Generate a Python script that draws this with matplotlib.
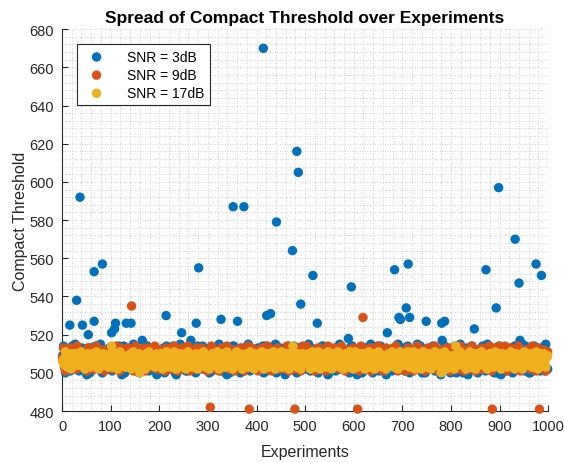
import numpy as np
import matplotlib
matplotlib.use("Agg")
import matplotlib.pyplot as plt
from matplotlib.ticker import MultipleLocator

plt.rcParams['font.family'] = ['Liberation Sans', 'DejaVu Sans']

# band values, read at experiments 1, 5, 9, ... (set a) and 3, 7, 11, ... (set b)
band_exp_a = np.arange(1, 1001, 4)
band_exp_b = np.arange(3, 1001, 4)

snr3_band_a = [
    509, 503, 512, 506, 501, 514, 507, 510, 504, 502, 513, 508, 505, 511, 500, 509, 503, 514, 506, 512, 501, 507, 510, 504, 513,
    505, 511, 502, 508, 514, 503, 509, 500, 512, 506, 504, 510, 513, 501, 507, 511, 505, 502, 514, 508, 503, 512, 509, 506, 501,
    510, 504, 513, 507, 502, 511, 505, 514, 500, 508, 512, 503, 506, 510, 501, 509, 513, 504, 507, 502, 511, 505, 514, 508, 503,
    512, 506, 501, 509, 504, 513, 507, 510, 502, 505, 511, 500, 508, 514, 503, 506, 512, 509, 501, 504, 510, 507, 513, 502, 505,
    511, 508, 503, 514, 506, 501, 509, 512, 504, 507, 500, 510, 513, 502, 505, 511, 508, 503, 506, 514, 501, 509, 504, 512, 507,
    502, 510, 505, 513, 508, 501, 511, 504, 507, 514, 503, 509, 500, 506, 512, 505, 510, 502, 513, 507, 504, 511, 501, 508, 514,
    506, 503, 512, 509, 500, 505, 513, 510, 502, 507, 511, 504, 514, 501, 508, 506, 512, 503, 509, 505, 510, 502, 513, 507, 504,
    513, 501, 507, 510, 504, 512, 506, 503, 509, 514, 500, 505, 511, 508, 502, 510, 504, 513, 507, 501, 509, 512, 506, 503, 511,
    504, 509, 514, 502, 507, 511, 500, 506, 513, 503, 510, 505, 508, 512, 501, 507, 514, 504, 509, 502, 511, 506, 500, 513, 508,
    507, 512, 504, 501, 510, 506, 513, 508, 503, 511, 505, 502, 509, 514, 506, 500, 512, 504, 510, 507, 503, 513, 505, 501, 509,
]
snr3_band_b = [
    514, 500, 507, 511, 503, 509, 515, 505, 501, 512, 506, 510, 499, 508, 513, 504, 502, 511, 507, 515, 500, 509, 505, 512, 503,
    501, 513, 508, 504, 510, 499, 514, 506, 511, 502, 509, 515, 503, 507, 500, 512, 505, 510, 514, 501, 508, 503, 513, 499, 506,
    511, 505, 500, 514, 507, 502, 512, 509, 499, 504, 515, 510, 506, 501, 513, 508, 503, 511, 500, 514, 505, 509, 502, 512, 507,
    500, 510, 513, 503, 506, 515, 501, 508, 512, 499, 505, 511, 514, 502, 507, 509, 500, 513, 504, 510, 515, 501, 506, 511, 503,
    513, 502, 509, 500, 514, 506, 511, 503, 508, 515, 501, 504, 510, 512, 499, 507, 514, 502, 509, 505, 500, 513, 508, 503, 511,
    503, 515, 501, 510, 505, 512, 500, 507, 514, 504, 509, 499, 513, 506, 511, 501, 508, 515, 503, 510, 505, 512, 500, 514, 508,
    510, 499, 512, 506, 501, 513, 509, 504, 515, 500, 511, 507, 502, 514, 505, 510, 499, 512, 508, 501, 513, 506, 515, 502, 509,
    505, 511, 514, 500, 508, 503, 510, 515, 502, 513, 507, 500, 509, 504, 512, 514, 501, 506, 511, 499, 508, 514, 503, 510, 500,
    512, 504, 500, 509, 515, 501, 506, 511, 499, 507, 514, 503, 510, 500, 508, 513, 505, 501, 515, 509, 502, 507, 512, 500, 514,
    499, 508, 511, 503, 512, 507, 500, 514, 505, 510, 502, 515, 501, 509, 506, 500, 511, 514, 503, 508, 501, 512, 507, 515, 502,
]
snr9_band_a = [
    508, 503, 511, 506, 513, 504, 509, 502, 512, 507, 505, 510, 503, 513, 508, 506, 502, 511, 504, 509, 512, 507, 503, 510, 505,
    511, 506, 502, 509, 504, 513, 507, 510, 503, 508, 512, 505, 502, 511, 506, 509, 504, 513, 507, 503, 510, 505, 512, 508, 502,
    504, 512, 508, 503, 510, 506, 513, 502, 509, 505, 511, 507, 504, 512, 503, 508, 510, 506, 502, 513, 509, 504, 511, 507, 505,
    510, 503, 507, 512, 505, 509, 502, 511, 506, 504, 513, 508, 503, 510, 505, 512, 507, 502, 509, 511, 504, 506, 513, 503, 508,
    506, 511, 504, 508, 513, 502, 510, 505, 507, 512, 503, 509, 506, 511, 502, 508, 513, 504, 510, 505, 507, 512, 503, 509, 506,
    503, 509, 512, 505, 507, 511, 504, 513, 508, 502, 510, 506, 512, 503, 509, 505, 511, 507, 504, 513, 502, 508, 510, 506, 511,
    512, 505, 508, 502, 511, 507, 503, 509, 513, 506, 504, 510, 508, 502, 512, 505, 509, 503, 511, 506, 513, 507, 504, 510, 502,
    507, 510, 503, 513, 506, 504, 512, 508, 502, 511, 505, 509, 507, 513, 504, 510, 506, 502, 512, 508, 505, 511, 503, 509, 513,
    505, 513, 509, 504, 502, 508, 511, 506, 510, 503, 512, 507, 505, 509, 511, 502, 506, 512, 508, 504, 510, 503, 513, 507, 511,
    509, 502, 506, 510, 512, 503, 507, 511, 505, 513, 508, 504, 510, 506, 503, 511, 513, 509, 502, 507, 512, 505, 508, 504, 510,
]
snr9_band_b = [
    513, 501, 510, 505, 512, 508, 502, 514, 506, 511, 503, 509, 501, 513, 507, 510, 502, 514, 505, 512, 508, 501, 511, 504, 513,
    502, 511, 514, 507, 501, 512, 509, 503, 513, 505, 510, 501, 514, 508, 504, 512, 506, 501, 511, 513, 503, 509, 514, 502, 507,
    512, 504, 501, 513, 509, 502, 511, 514, 505, 501, 508, 513, 503, 510, 514, 501, 507, 512, 504, 509, 502, 513, 506, 511, 501,
    505, 514, 508, 502, 511, 501, 513, 506, 510, 514, 502, 507, 512, 501, 509, 504, 513, 510, 501, 506, 514, 503, 511, 508, 512,
    501, 509, 513, 511, 503, 514, 505, 501, 512, 507, 513, 502, 510, 505, 512, 514, 501, 508, 513, 502, 511, 505, 501, 514, 509,
    514, 503, 506, 512, 501, 509, 513, 502, 508, 511, 501, 514, 506, 503, 513, 509, 511, 502, 514, 507, 501, 512, 504, 510, 513,
    503, 512, 501, 514, 507, 511, 502, 510, 501, 513, 505, 509, 514, 502, 511, 501, 513, 505, 509, 512, 503, 514, 501, 507, 511,
    510, 501, 513, 504, 512, 501, 508, 514, 503, 509, 512, 501, 507, 513, 502, 510, 514, 503, 501, 512, 509, 502, 513, 505, 501,
    507, 513, 502, 509, 514, 505, 501, 512, 511, 502, 514, 504, 501, 511, 508, 513, 502, 509, 506, 514, 501, 511, 503, 512, 514,
    512, 506, 514, 501, 510, 513, 503, 509, 502, 514, 501, 511, 505, 512, 509, 502, 514, 507, 501, 513, 510, 504, 512, 501, 511,
]
snr17_band_a = [
    506, 504, 509, 507, 503, 510, 505, 508, 506, 504, 509, 503, 507, 510, 505, 508, 504, 506, 509, 503, 507, 510, 505, 508, 506,
    508, 505, 503, 510, 507, 504, 509, 506, 503, 508, 510, 505, 507, 504, 509, 506, 503, 508, 510, 505, 507, 504, 509, 506, 508,
    504, 509, 506, 503, 508, 510, 505, 507, 509, 504, 506, 508, 503, 510, 505, 507, 509, 504, 506, 508, 503, 510, 507, 505, 509,
    507, 503, 510, 505, 509, 506, 504, 508, 510, 503, 507, 505, 509, 506, 504, 508, 510, 503, 507, 505, 509, 506, 504, 508, 510,
    505, 508, 504, 509, 506, 503, 510, 507, 505, 509, 504, 508, 506, 503, 510, 507, 505, 509, 504, 508, 506, 510, 503, 507, 509,
    509, 506, 508, 504, 510, 507, 503, 505, 508, 506, 510, 504, 509, 507, 503, 505, 508, 506, 510, 504, 509, 507, 503, 505, 508,
    503, 507, 505, 510, 504, 508, 506, 509, 503, 507, 505, 510, 504, 508, 506, 509, 503, 507, 505, 510, 504, 508, 506, 509, 505,
    510, 504, 507, 506, 509, 503, 508, 505, 510, 504, 507, 506, 509, 503, 508, 505, 510, 504, 507, 506, 509, 503, 508, 505, 507,
    506, 509, 503, 508, 505, 510, 504, 507, 506, 509, 503, 508, 505, 510, 504, 507, 506, 509, 503, 508, 505, 510, 504, 507, 506,
    508, 503, 509, 504, 507, 510, 506, 505, 508, 503, 509, 504, 507, 510, 506, 505, 508, 503, 509, 504, 507, 510, 506, 505, 508,
]
snr17_band_b = [
    507, 511, 503, 509, 502, 506, 510, 504, 508, 511, 505, 502, 509, 507, 503, 510, 506, 511, 502, 508, 504, 509, 507, 503, 510,
    503, 507, 510, 502, 511, 505, 508, 503, 509, 506, 502, 511, 504, 508, 510, 503, 507, 502, 509, 511, 505, 508, 503, 510, 504,
    510, 502, 507, 511, 505, 503, 509, 511, 502, 507, 510, 504, 508, 502, 511, 506, 503, 509, 510, 502, 508, 505, 511, 503, 507,
    502, 509, 504, 508, 511, 502, 506, 510, 503, 511, 505, 509, 502, 507, 511, 504, 509, 502, 506, 510, 503, 511, 508, 502, 509,
    509, 504, 511, 502, 507, 510, 503, 508, 511, 502, 509, 506, 511, 503, 508, 510, 502, 505, 511, 507, 503, 509, 502, 510, 505,
    505, 510, 502, 511, 503, 508, 511, 502, 506, 509, 503, 511, 507, 502, 510, 504, 511, 503, 508, 502, 510, 506, 511, 504, 502,
    511, 503, 508, 505, 510, 502, 507, 511, 504, 510, 502, 508, 511, 505, 503, 509, 502, 510, 506, 511, 503, 508, 502, 511, 507,
    504, 508, 511, 503, 506, 511, 502, 509, 505, 502, 511, 507, 503, 510, 502, 508, 511, 504, 510, 503, 507, 511, 502, 509, 504,
    508, 502, 506, 510, 511, 504, 509, 502, 507, 511, 503, 510, 502, 509, 506, 511, 504, 508, 502, 510, 505, 503, 511, 506, 510,
    502, 510, 507, 503, 509, 511, 504, 502, 510, 506, 508, 502, 511, 504, 507, 510, 503, 509, 511, 502, 508, 505, 510, 503, 509,
]

# readings away from the band
snr3_out_x = [16, 30, 37, 42, 54, 66, 66, 83, 102, 108, 110, 132, 142, 165, 214, 246, 265, 276, 281, 327,
              352, 361, 374, 414, 421, 429, 441, 474, 483, 486, 491, 516, 525, 589, 595, 669, 684, 693,
              696, 708, 712, 715, 749, 781, 782, 787, 848, 872, 893, 898, 932, 940, 942, 975, 986]
snr3_out_y = [525, 538, 592, 525, 520, 527, 553, 557, 521, 523, 526, 526, 526, 517, 530, 521, 517, 526, 555, 528,
              587, 527, 587, 670, 530, 531, 579, 564, 616, 605, 536, 551, 526, 518, 545, 521, 554, 529,
              528, 534, 557, 529, 527, 526, 517, 527, 523, 554, 534, 597, 570, 547, 517, 557, 551]
snr9_out_x = [143, 305, 385, 479, 608, 619, 885, 982]
snr9_out_y = [535, 482, 481, 481, 481, 529, 481, 481]
snr17_out_x = [102, 160, 475, 780, 810]
snr17_out_y = [514, 500, 514, 500, 514]

labels = ['SNR = 3dB', 'SNR = 9dB', 'SNR = 17dB']
colors = ['#0072BD', '#D95319', '#EDB120']

fig = plt.figure(figsize=(5.64, 4.64), dpi=100)
ax = fig.add_axes([0.110, 0.112, 0.862, 0.823])

series = [
    (snr3_band_a, snr3_band_b, snr3_out_x, snr3_out_y),
    (snr9_band_a, snr9_band_b, snr9_out_x, snr9_out_y),
    (snr17_band_a, snr17_band_b, snr17_out_x, snr17_out_y),
]
for (ba, bb, ox, oy), lab, col in zip(series, labels, colors):
    xs = np.concatenate([band_exp_a, band_exp_b, ox])
    ys = np.concatenate([ba, bb, oy])
    ax.scatter(xs, ys, s=46, color=col, edgecolors='none', label=lab, clip_on=False, zorder=3)

ax.set_xlim(0, 1000)
ax.set_ylim(480, 680)
ax.xaxis.set_major_locator(MultipleLocator(100))
ax.xaxis.set_minor_locator(MultipleLocator(20))
ax.yaxis.set_major_locator(MultipleLocator(20))
ax.yaxis.set_minor_locator(MultipleLocator(4))
ax.grid(True, which='both', color='#c4c4c4', linestyle=(0, (1, 2)), linewidth=0.6, zorder=0)
ax.set_axisbelow(True)

ax.tick_params(which='major', direction='in', length=4, colors='#262626', labelsize=10.5, pad=6)
ax.tick_params(which='minor', length=0)
for side in ['top', 'right']:
    ax.spines[side].set_visible(False)
for side in ['left', 'bottom']:
    ax.spines[side].set_color('#262626')
    ax.spines[side].set_linewidth(0.8)

ax.set_title('Spread of Compact Threshold over Experiments', fontsize=12.5, fontweight='bold', pad=5)
ax.set_xlabel('Experiments', fontsize=11.5, color='#262626', labelpad=8)
ax.set_ylabel('Compact Threshold', fontsize=11.5, color='#262626', labelpad=1)

leg = ax.legend(loc='upper left', bbox_to_anchor=(0.031, 0.961), borderaxespad=0,
                fontsize=10, fancybox=False, framealpha=1, edgecolor='#262626',
                handletextpad=1.2, borderpad=0.4, labelspacing=0.3)
leg.get_frame().set_linewidth(0.8)

plt.savefig('out.png', dpi=100)
